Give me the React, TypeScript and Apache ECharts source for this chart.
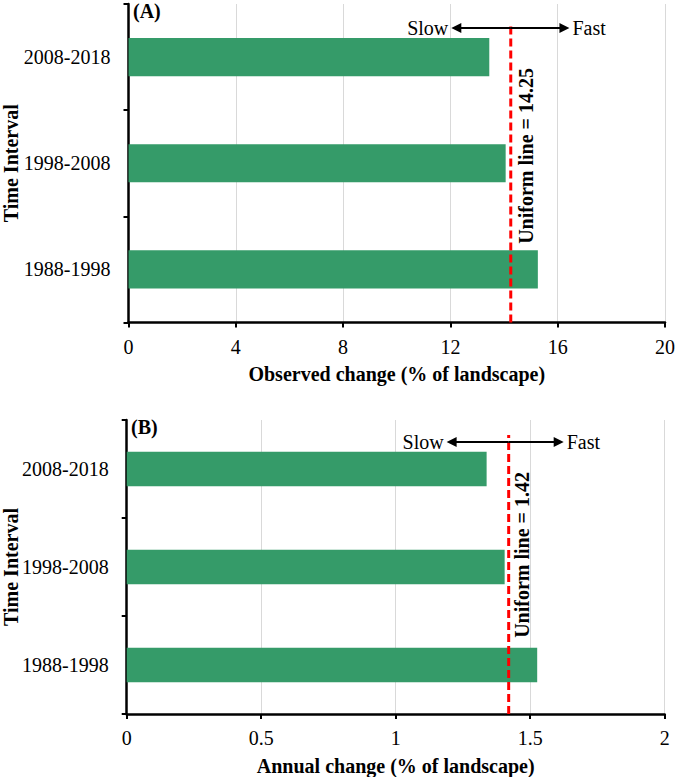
import React, { useEffect, useRef } from "react";
import * as echarts from "echarts";

const categories = ["1988-1998", "1998-2008", "2008-2018"];
const observedChange = [15.26, 14.06, 13.45];
const annualChange = [1.526, 1.405, 1.338];
const uniformObserved = 14.25;
const uniformAnnual = 1.42;
const ticksObserved = { min: 0, max: 20, interval: 4 };
const ticksAnnual = { min: 0, max: 2, interval: 0.5 };
const arrowObserved = { slow: 12.22, fast: 16.25 };
const arrowAnnual = { slow: 1.208, fast: 1.606 };

const FONT = "'Liberation Serif', 'Times New Roman', serif";

export default function App() {
  const ref = useRef<HTMLDivElement>(null);
  useEffect(() => {
    document.body.style.margin = "0";
    const chart = echarts.init(ref.current!, null, { renderer: "svg" });

    const grids = [
      { left: 128.5, top: 4, width: 536.5, height: 318.5, outerBoundsMode: "none", containLabel: false },
      { left: 126.7, top: 420, width: 538, height: 294, outerBoundsMode: "none", containLabel: false },
    ];

    const makeX = (g: number, t: any, name: string) => ({
      type: "value",
      gridIndex: g,
      min: t.min,
      max: t.max,
      interval: t.interval,
      name,
      nameLocation: "middle",
      nameGap: g === 0 ? 41 : 42,
      nameMoveOverlap: false,
      nameTextStyle: { fontFamily: FONT, fontSize: 20, fontWeight: "bold", color: "#000" },
      axisLine: { show: true, onZero: false, lineStyle: { color: "#000", width: 2.5 } },
      axisTick: { show: true, length: 5, lineStyle: { color: "#000", width: 2 } },
      axisLabel: { fontFamily: FONT, fontSize: 20, color: "#000", margin: 14 },
      splitLine: { show: true, lineStyle: { color: "#d9d9d9", width: 1 } },
    });

    const makeYCat = (g: number) => ({
      type: "category",
      gridIndex: g,
      data: categories,
      name: "Time Interval",
      nameLocation: "middle",
      nameGap: g === 0 ? 108 : 106,
      nameMoveOverlap: false,
      nameTextStyle: { fontFamily: FONT, fontSize: 20, fontWeight: "bold", color: "#000" },
      axisLine: { show: true, lineStyle: { color: "#000", width: 2.5 } },
      axisTick: { show: true, length: 5, alignWithLabel: false, lineStyle: { color: "#000", width: 2 } },
      axisLabel: { fontFamily: FONT, fontSize: 20, color: "#000", margin: 18 },
      splitLine: { show: false },
    });

    const makeYHidden = (g: number) => ({
      type: "value",
      gridIndex: g,
      min: 0,
      max: 1,
      show: false,
      splitLine: { show: false },
    });

    const uniformSeries = (
      g: number,
      u: number,
      top: number,
      mid: number,
      arrow: { slow: number; fast: number },
      ay: number,
      labelDist: number
    ) => ({
      type: "line",
      xAxisIndex: g,
      yAxisIndex: g * 2 + 1,
      symbol: "circle",
      symbolSize: 1,
      showSymbol: true,
      itemStyle: { color: "rgba(0,0,0,0)", borderWidth: 0 },
      lineStyle: { color: "#ff0000", width: 3, type: [8, 4] },
      silent: true,
      labelLayout: { hideOverlap: false },
      data: [
        [u, 0],
        {
          value: [u, mid],
          label: {
            show: true,
            formatter: "Uniform line = " + u,
            position: "right",
            distance: labelDist,
            rotate: 90,
            align: "center",
            verticalAlign: "top",
            fontFamily: FONT,
            fontSize: 20,
            fontWeight: "bold",
            color: "#000",
          },
        },
        [u, top],
      ],
      markLine: {
        silent: true,
        symbol: ["none", "triangle"],
        symbolSize: 10,
        lineStyle: { color: "#000", width: 2, type: "solid" },
        label: { fontFamily: FONT, fontSize: 20, color: "#000" },
        data: [
          [
            {
              coord: [u, ay],
              label: { show: true, position: "end", distance: 8, formatter: "Slow", fontFamily: FONT, fontSize: 20, color: "#000" },
            },
            { coord: [arrow.slow, ay] },
          ],
          [
            {
              coord: [u, ay],
              label: { show: true, position: "end", distance: 8, formatter: "Fast", fontFamily: FONT, fontSize: 20, color: "#000" },
            },
            { coord: [arrow.fast, ay] },
          ],
        ],
      },
    });

    chart.setOption({
      animation: false,
      grid: grids,
      xAxis: [
        makeX(0, ticksObserved, "Observed change (% of landscape)"),
        makeX(1, ticksAnnual, "Annual change (% of landscape)"),
      ],
      yAxis: [makeYCat(0), makeYHidden(0), makeYCat(1), makeYHidden(1)],
      graphic: [
        {
          type: "text",
          left: 133,
          top: 1,
          style: { text: "(A)", fontFamily: FONT, fontSize: 20, fontWeight: "bold", fill: "#000" },
        },
        {
          type: "text",
          left: 131,
          top: 417,
          style: { text: "(B)", fontFamily: FONT, fontSize: 20, fontWeight: "bold", fill: "#000" },
        },
      ],
      series: [
        {
          type: "bar",
          xAxisIndex: 0,
          yAxisIndex: 0,
          data: observedChange,
          barWidth: "36%",
          itemStyle: { color: "#359b69" },
          silent: true,
        },
        {
          type: "bar",
          xAxisIndex: 1,
          yAxisIndex: 2,
          data: annualChange,
          barWidth: "35%",
          itemStyle: { color: "#359b69" },
          silent: true,
        },
        uniformSeries(0, uniformObserved, 0.94, 0.523, arrowObserved, 0.925, 5),
        uniformSeries(1, uniformAnnual, 0.949, 0.541, arrowAnnual, 0.925, 3),
      ],
    });
    return () => chart.dispose();
  }, []);
  return <div ref={ref} style={{ width: 675, height: 777 }} />;
}
